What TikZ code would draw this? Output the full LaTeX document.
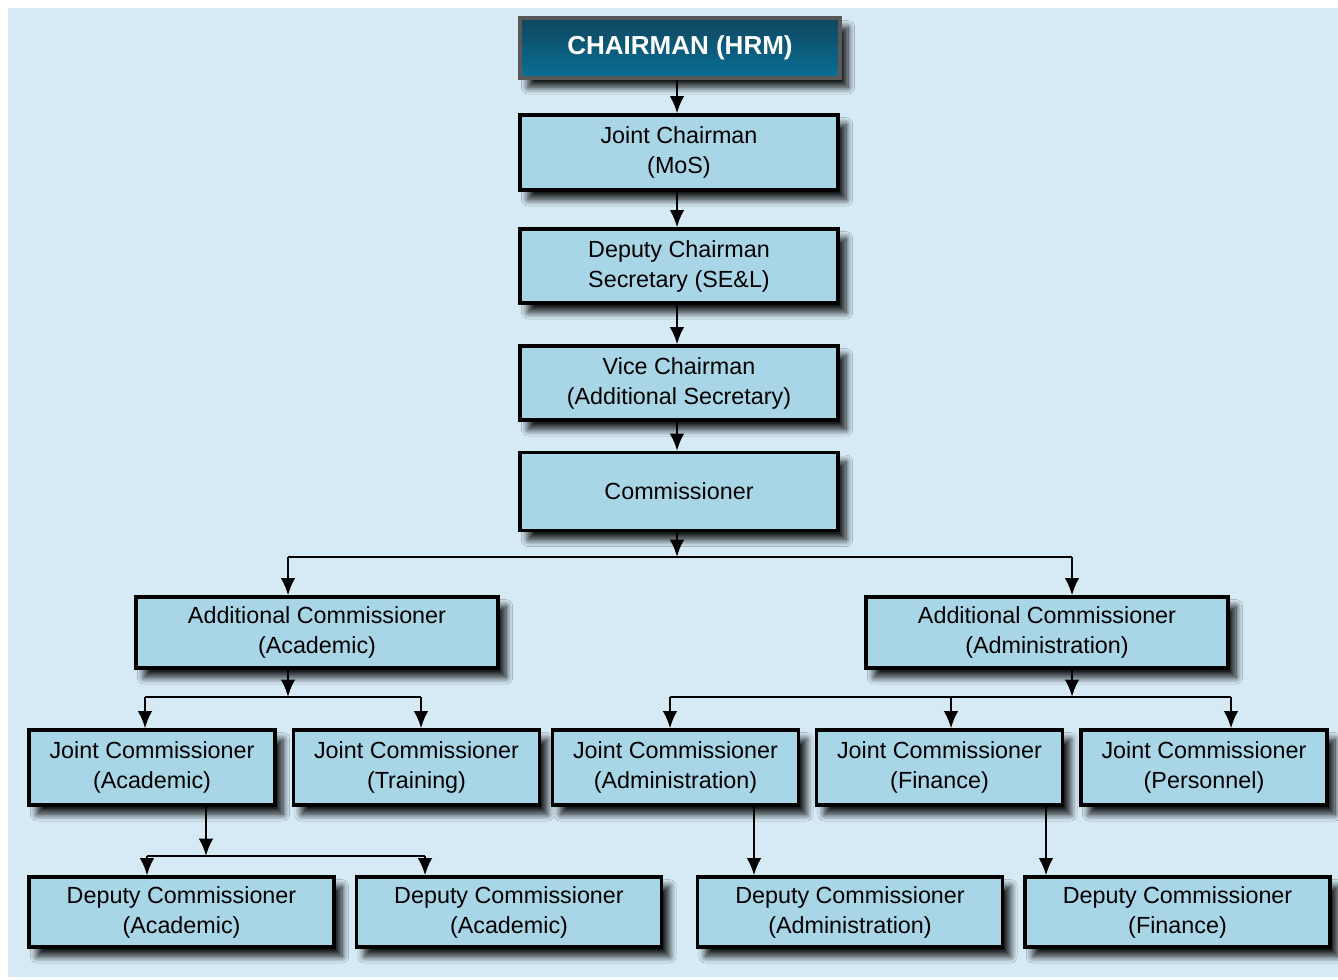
\documentclass[tikz,border=0pt]{standalone}
\usepackage{fontspec}
\setmainfont{Liberation Sans}
\usetikzlibrary{arrows.meta,shadows.blur}
\definecolor{bgblue}{RGB}{214,234,245}
\definecolor{boxblue}{RGB}{168,214,230}
\definecolor{topdark}{RGB}{16,70,94}
\definecolor{topmid}{RGB}{8,128,168}
\definecolor{topbot}{RGB}{8,112,150}
\tikzset{
	post/.style={draw=black, line width=2.3pt, fill=boxblue, align=center, inner sep=0pt,
		font=\fontsize{17.5}{22.5}\selectfont,
		blur shadow={shadow xshift=6pt, shadow yshift=-7pt, shadow blur radius=5pt,
			shadow blur steps=10, shadow opacity=90}},
	midpost/.style={post, minimum width=238.5pt},
	addpost/.style={post, minimum width=271.5pt, minimum height=53.25pt},
	jcpost/.style={post, minimum width=184.5pt, minimum height=56.25pt},
	dcpost/.style={post, minimum width=228.75pt, minimum height=52.5pt},
	headpost/.style={post, draw=black!65, top color=topdark, middle color=topmid, bottom color=topbot,
		text=white, font=\fontsize{19.5}{22}\selectfont\bfseries, minimum width=240pt, minimum height=45pt},
	link/.style={line width=2.1pt},
	feed/.style={link, -{Latex[length=13pt,width=11pt]}}
}

\begin{document}
\begin{tikzpicture}[x=0.75pt, y=-0.75pt]
	\useasboundingbox (0, 0) rectangle (1338, 979);
	\fill[bgblue](8, 8) rectangle (1338, 977);
	% top column
	\node[headpost] (chair) at (680, 48) {CHAIRMAN (HRM)};
	\node[midpost, minimum height=56.25pt] (jch) at (679, 152.5) {Joint Chairman\\(MoS)};
	\node[midpost, minimum height=55.5pt] (dch) at (679, 266) {Deputy Chairman\\Secretary (SE\&L)};
	\node[midpost, minimum height=55.5pt] (vch) at (679, 383) {Vice Chairman\\(Additional Secretary)};
	\node[midpost, minimum height=58.5pt] (comm) at (679, 491.5) {Commissioner};
	% additional commissioners
	\node[addpost] (aca) at (317, 632.5) {Additional Commissioner\\(Academic)};
	\node[addpost] (adm) at (1047, 632.5) {Additional Commissioner\\(Administration)};
	% joint commissioners
	\node[jcpost] (jcaca) at (152, 767.5) {Joint Commissioner\\(Academic)};
	\node[jcpost] (jctrn) at (416.5, 767.5) {Joint Commissioner\\(Training)};
	\node[jcpost] (jcadm) at (675.5, 767.5) {Joint Commissioner\\(Administration)};
	\node[jcpost] (jcfin) at (939.5, 767.5) {Joint Commissioner\\(Finance)};
	\node[jcpost] (jcper) at (1204, 767.5) {Joint Commissioner\\(Personnel)};
	% deputy commissioners
	\node[dcpost] (dcaca) at (181.5, 912) {Deputy Commissioner\\(Academic)};
	\node[dcpost] (dcacb) at (509, 912) {Deputy Commissioner\\(Academic)};
	\node[dcpost] (dcadm) at (850, 912) {Deputy Commissioner\\(Administration)};
	\node[dcpost] (dcfin) at (1177.5, 912) {Deputy Commissioner\\(Finance)};
	% connectors
	\coordinate (colx) at (677, 0);
	\draw[feed](chair.south -| colx) -- (jch.north -| colx);
	\draw[feed](jch.south -| colx) -- (dch.north -| colx);
	\draw[feed](dch.south -| colx) -- (vch.north -| colx);
	\draw[feed](vch.south -| colx) -- (comm.north -| colx);
	\coordinate (busc) at (677, 557);
	\coordinate (busl) at (288, 557);
	\coordinate (busr) at (1072, 557);
	\draw[feed](comm.south -| busc) -- (busc);
	\draw[link](busl) -- (busr);
	\draw[feed](busl) -- (busl |- aca.north);
	\draw[feed](busr) -- (busr |- adm.north);
	% academic side
	\coordinate (acab) at (288, 697);
	\coordinate (acal) at (145, 697);
	\coordinate (acar) at (421, 697);
	\draw[feed](aca.south -| acab) -- (acab);
	\draw[link](acal) -- (acar);
	\draw[feed](acal) -- (acal |- jcaca.north);
	\draw[feed](acar) -- (acar |- jctrn.north);
	% administration side
	\coordinate (admb) at (1072, 697);
	\coordinate (adml) at (670, 697);
	\coordinate (admm) at (951, 697);
	\coordinate (admr) at (1231, 697);
	\draw[feed](adm.south -| admb) -- (admb);
	\draw[link](adml) -- (admr);
	\draw[feed](adml) -- (adml |- jcadm.north);
	\draw[feed](admm) -- (admm |- jcfin.north);
	\draw[feed](admr) -- (admr |- jcper.north);
	% deputies
	\coordinate (jcb) at (206, 856);
	\coordinate (jcl) at (147, 856);
	\coordinate (jcr) at (425, 856);
	\draw[feed](jcaca.south -| jcb) -- (jcb);
	\draw[link](jcl) -- (jcr);
	\draw[feed](jcl) -- (jcl |- dcaca.north);
	\draw[feed](jcr) -- (jcr |- dcacb.north);
	\coordinate (jcadmx) at (754, 0);
	\coordinate (jcfinx) at (1046, 0);
	\draw[feed](jcadm.south -| jcadmx) -- (dcadm.north -| jcadmx);
	\draw[feed](jcfin.south -| jcfinx) -- (dcfin.north -| jcfinx);
\end{tikzpicture}
\end{document}
